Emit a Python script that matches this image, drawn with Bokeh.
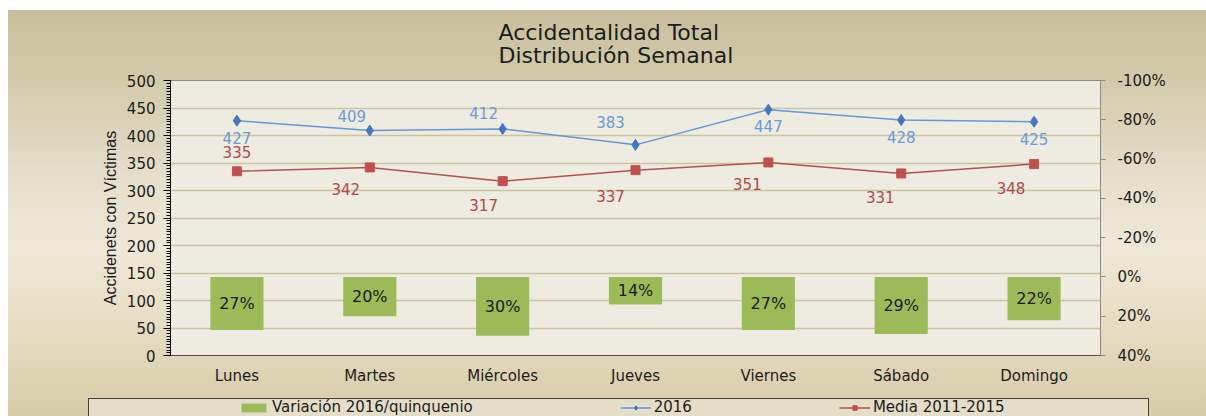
from bokeh.plotting import figure
from bokeh.layouts import column
from bokeh.models import (ColumnDataSource, FactorRange, Range1d, LinearAxis,
                          SingleIntervalTicker, PrintfTickFormatter, Legend,
                          LegendItem, Title)
from bokeh.embed import file_html
from bokeh.resources import INLINE

# ---------------- data ----------------
dias = ["Lunes", "Martes", "Miércoles", "Jueves", "Viernes", "Sábado", "Domingo"]
accidentes_2016 = [427, 409, 412, 383, 447, 428, 425]
media_2011_2015 = [335, 342, 317, 337, 351, 331, 348]
variacion_pct = [27, 20, 30, 14, 27, 29, 22]

titulo = "Accidentalidad Total\nDistribución Semanal"
eje_y = "Accidenets con Víctimas"
serie_var = "Variación 2016/quinquenio"
serie_2016 = "2016"
serie_media = "Media 2011-2015"

# ---------------- label offsets (px, style only) ----------------
off_2016_dx = [0, -18, -19, -25, 0, 0, 0]
off_2016_dy = [17, -15, -16, -23, 16, 17, 17]
off_media_dx = [0, -24, -19, -25, -21, -21, -23]
off_media_dy = [-19, 22, 24, 26, 22, 24, 24]

src = ColumnDataSource(dict(
    dia=dias,
    a2016=accidentes_2016,
    media=media_2011_2015,
    var=variacion_pct,
    var_mid=[v / 2 for v in variacion_pct],
    var_txt=[f"{v}%" for v in variacion_pct],
    a2016_txt=[str(v) for v in accidentes_2016],
    media_txt=[str(v) for v in media_2011_2015],
    dx1=off_2016_dx, dy1=off_2016_dy,
    dx2=off_media_dx, dy2=off_media_dy,
))

FONT = "DejaVu Sans"
TXT = "#1c1c1c"
W, H_MAIN, H_LEG = 1206, 388, 28
GRAD = ("linear-gradient(to bottom, #c5bd99 0%, #d4cdae 22%, #e4decb 42%, "
        "#eee8d6 60%, #e6ddc3 78%, #d7cba8 100%)")


def bg(offset_y, extra):
    white = "linear-gradient(#ffffff,#ffffff)"
    layers = list(extra)
    layers.append(f"{white} 0 0 / 8px 100% no-repeat")
    layers.append(f"{GRAD} 0 {-offset_y}px / {W}px 416px no-repeat")
    return {"background": ", ".join(layers)}


# ================= main chart =================
p = figure(x_range=FactorRange(factors=dias), y_range=Range1d(0, 500),
           width=W, height=H_MAIN, output_backend="svg", toolbar_location=None,
           title=None,
           min_border_left=170, min_border_right=106, min_border_top=80,
           min_border_bottom=33)
p.styles = bg(0, ["linear-gradient(#ffffff,#ffffff) 0 0 / 100% 10px no-repeat"])
p.border_fill_alpha = 0
p.background_fill_color = "#eeebe1"
p.outline_line_color = "#8a8a8a"
p.outline_line_width = 1

p.add_layout(Title(text=titulo, align="left", offset=328, standoff=26,
                   text_font=FONT, text_font_size="22px", text_font_style="normal",
                   text_color=TXT, text_line_height=0.9), "above")

# left axis
lt = SingleIntervalTicker(interval=50, num_minor_ticks=10)
ya = p.yaxis[0]
ya.ticker = lt
ya.axis_line_color = "#000000"
ya.major_tick_line_color = "#000000"
ya.minor_tick_line_color = "#000000"
ya.major_tick_in = 0
ya.major_tick_out = 7
ya.minor_tick_in = 0
ya.minor_tick_out = 4
ya.major_label_standoff = 8
ya.major_label_text_font = FONT
ya.major_label_text_font_size = "15px"
ya.major_label_text_color = TXT
ya.axis_label = eje_y
ya.axis_label_text_font = "Liberation Sans"
ya.axis_label_text_font_size = "16px"
ya.axis_label_text_font_style = "normal"
ya.axis_label_text_color = TXT
ya.axis_label_standoff = 5

p.ygrid.ticker = lt
p.ygrid.grid_line_color = "#cbc3a2"
p.ygrid.grid_line_width = 1.5
p.xgrid.visible = False

# x axis
xa = p.xaxis[0]
xa.axis_line_color = "#4d4d4d"
xa.major_tick_line_color = None
xa.minor_tick_line_color = None
xa.major_tick_out = 0
xa.major_tick_in = 0
xa.minor_tick_out = 0
xa.minor_tick_in = 0
xa.major_label_standoff = 11
xa.major_label_text_font = FONT
xa.major_label_text_font_size = "15px"
xa.major_label_text_color = TXT

# right axis (percent, reversed)
p.extra_y_ranges = {"pct": Range1d(start=40, end=-100)}
ra = LinearAxis(y_range_name="pct", ticker=SingleIntervalTicker(interval=20),
                formatter=PrintfTickFormatter(format="%d%%"))
ra.axis_line_color = "#8a8a8a"
ra.major_tick_line_color = "#8a8a8a"
ra.minor_tick_line_color = None
ra.major_tick_in = 0
ra.major_tick_out = 5
ra.major_label_standoff = 12
ra.major_label_text_font = FONT
ra.major_label_text_font_size = "15px"
ra.major_label_text_color = TXT
p.add_layout(ra, "right")

BAR_C, BLUE_L, BLUE_M, RED_L, RED_M = "#9bbb59", "#6496d8", "#4477c0", "#b5504e", "#c0504d"

# bars
p.vbar(x="dia", top=0, bottom="var", width=0.4, y_range_name="pct",
       source=src, fill_color=BAR_C, line_color=None)
p.text(x="dia", y="var_mid", text="var_txt", y_range_name="pct", source=src,
       text_align="center", text_baseline="middle", text_font_size="16px",
       text_color="#1a1a1a", text_font={"value": FONT})

# lines
p.line(x="dia", y="a2016", source=src, line_color=BLUE_L, line_width=1.5)
p.scatter(x="dia", y="a2016", source=src, marker="diamond", size=11,
          fill_color=BLUE_M, line_color=BLUE_M)
p.line(x="dia", y="media", source=src, line_color=RED_L, line_width=1.5)
p.scatter(x="dia", y="media", source=src, marker="square", size=9,
          fill_color=RED_M, line_color=RED_M)

p.text(x="dia", y="a2016", text="a2016_txt", source=src, x_offset="dx1",
       y_offset="dy1", text_align="center", text_baseline="middle",
       text_font_size="15px", text_color="#6b9ad8", text_font={"value": FONT})
p.text(x="dia", y="media", text="media_txt", source=src, x_offset="dx2",
       y_offset="dy2", text_align="center", text_baseline="middle",
       text_font_size="15px", text_color="#b04a4a", text_font={"value": FONT})

# ================= legend strip (frame aligned with the chart above) =========
pl = figure(width=W, height=H_LEG, output_backend="svg", toolbar_location=None,
            title=None, x_axis_location=None, y_axis_location=None,
            min_border=0, x_range=FactorRange(factors=dias),
            y_range=Range1d(1000, 1001))
box = "linear-gradient(#404040,#404040)"
pl.styles = bg(H_MAIN, [
    f"{box} 88px 10px / 1061px 1px no-repeat",
    f"{box} 88px 10px / 1px 30px no-repeat",
    f"{box} 1148px 10px / 1px 30px no-repeat",
    "linear-gradient(#e4ddc7,#e4ddc7) 89px 11px / 1059px 30px no-repeat",
])
pl.border_fill_alpha = 0
pl.background_fill_alpha = 0
pl.outline_line_color = None
pl.grid.visible = False

# same series, outside this strip's visible range: only their legend swatches show
g_bar = pl.vbar(x="dia", top=0, bottom="var", width=0.4, source=src,
                fill_color=BAR_C, line_color=None)
g_l1 = pl.line(x="dia", y="a2016", source=src, line_color=BLUE_L, line_width=1.5)
g_m1 = pl.scatter(x="dia", y="a2016", source=src, marker="diamond", size=9,
                  fill_color=BLUE_M, line_color=BLUE_M)
g_l2 = pl.line(x="dia", y="media", source=src, line_color=RED_L, line_width=1.5)
g_m2 = pl.scatter(x="dia", y="media", source=src, marker="square", size=8,
                  fill_color=RED_M, line_color=RED_M)

legend = Legend(items=[LegendItem(label=serie_var, renderers=[g_bar]),
                       LegendItem(label=serie_2016, renderers=[g_l1, g_m1]),
                       LegendItem(label=serie_media, renderers=[g_l2, g_m2])],
                orientation="horizontal", location=(68, 0), spacing=147,
                glyph_width=31, glyph_height=11, label_standoff=3, padding=0,
                margin=0, border_line_color=None, background_fill_alpha=0,
                label_text_font=FONT, label_text_font_size="15px",
                label_text_color=TXT, label_height=16)
pl.add_layout(legend)

open("out.html", "w").write(file_html(column(p, pl, spacing=0), INLINE))
